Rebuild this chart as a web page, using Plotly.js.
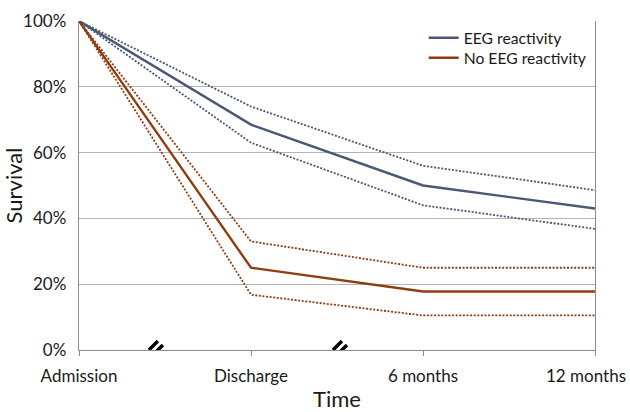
<!DOCTYPE html>
<html>
<head>
<meta charset="utf-8">
<script src="https://cdn.plot.ly/plotly-3.0.1.min.js"></script>
<style>html,body{margin:0;padding:0;background:#fff;}#chart{width:630px;height:412px;}</style>
</head>
<body>
<div id="chart"></div>
<script>
var timepoints = ["Admission", "Discharge", "6 months", "12 months"];
var reactive = [1.00, 0.685, 0.50, 0.43];
var reactiveUpper = [1.00, 0.74, 0.56, 0.486];
var reactiveLower = [1.00, 0.63, 0.44, 0.368];
var nonReactive = [1.00, 0.25, 0.178, 0.178];
var nonReactiveUpper = [1.00, 0.33, 0.25, 0.25];
var nonReactiveLower = [1.00, 0.168, 0.105, 0.105];
var breakPositions = [0.453, 1.523];

var blue = "#4a5874";
var brown = "#8f3d10";
var xs = [0, 1, 2, 3];
var dotted = "2px,1.6px";

var traces = [
  {x: xs, y: reactiveUpper, mode: "lines", line: {color: blue, width: 1.8, dash: dotted}, showlegend: false, hoverinfo: "skip"},
  {x: xs, y: reactiveLower, mode: "lines", line: {color: blue, width: 1.8, dash: dotted}, showlegend: false, hoverinfo: "skip"},
  {x: xs, y: nonReactiveUpper, mode: "lines", line: {color: brown, width: 1.8, dash: dotted}, showlegend: false, hoverinfo: "skip"},
  {x: xs, y: nonReactiveLower, mode: "lines", line: {color: brown, width: 1.8, dash: dotted}, showlegend: false, hoverinfo: "skip"},
  {x: xs, y: reactive, mode: "lines", name: "EEG reactivity", line: {color: blue, width: 2.4}, legend: "legend"},
  {x: xs, y: nonReactive, mode: "lines", name: "No EEG reactivity", line: {color: brown, width: 2.4}, legend: "legend2"}
];

var shapes = [];
breakPositions.forEach(function (bx) {
  shapes.push({type: "line", xref: "x", yref: "y", xsizemode: "pixel", ysizemode: "pixel",
    xanchor: bx, yanchor: 0, x0: -8, x1: 1, y0: 0, y1: 9, line: {color: "#000", width: 3.5}});
  shapes.push({type: "line", xref: "x", yref: "y", xsizemode: "pixel", ysizemode: "pixel",
    xanchor: bx, yanchor: 0, x0: -3, x1: 6, y0: -4, y1: 5, line: {color: "#000", width: 3.5}});
});

var legendBase = {xanchor: "left", yanchor: "top", bgcolor: "rgba(0,0,0,0)",
  font: {size: 15.7, color: "#1a1a1a"}};

// last tick label is drawn as an annotation so it can sit slightly left (as in the reference)
var tickText = timepoints.slice(0, 3).concat([""]);

var layout = {
  width: 630, height: 412,
  margin: {l: 79, r: 35, t: 21, b: 62},
  paper_bgcolor: "#fff", plot_bgcolor: "#fff",
  font: {family: "Lato, 'Open Sans', sans-serif", size: 17, color: "#1a1a1a"},
  showlegend: true,
  legend: Object.assign({x: 0.668, y: 1.0}, legendBase),
  legend2: Object.assign({x: 0.668, y: 0.939}, legendBase),
  xaxis: {
    range: [0, 3], tickmode: "array", tickvals: xs, ticktext: tickText,
    showgrid: false, zeroline: false, showline: true, linecolor: "#8c8c8c", linewidth: 1.3,
    ticks: "outside", ticklen: 5, tickcolor: "#8c8c8c", mirror: false,
    tickfont: {size: 17}, ticklabelstandoff: 5,
    title: {text: "Time", font: {size: 22, color: "#1a1a1a"}, standoff: 14},
    fixedrange: true
  },
  yaxis: {
    range: [0, 1], tickmode: "array", tickvals: [0, 0.2, 0.4, 0.6, 0.8, 1.0], tickformat: ".0%",
    showgrid: true, gridcolor: "#b3b3b3", gridwidth: 1, zeroline: false,
    showline: true, linecolor: "#8c8c8c", linewidth: 1.3, mirror: true,
    ticks: "outside", ticklen: 8, tickcolor: "rgba(0,0,0,0)",
    tickfont: {size: 17},
    title: {text: "Survival", font: {size: 22, color: "#1a1a1a"}, standoff: 5},
    fixedrange: true
  },
  annotations: [{
    x: xs[3], y: 0, xref: "x", yref: "y", text: timepoints[3], showarrow: false,
    xanchor: "right", yanchor: "middle", xshift: 33, yshift: -25,
    font: {size: 17, color: "#1a1a1a"}
  }],
  shapes: shapes
};

Plotly.newPlot("chart", traces, layout, {displayModeBar: false, staticPlot: true});
</script>
</body>
</html>
